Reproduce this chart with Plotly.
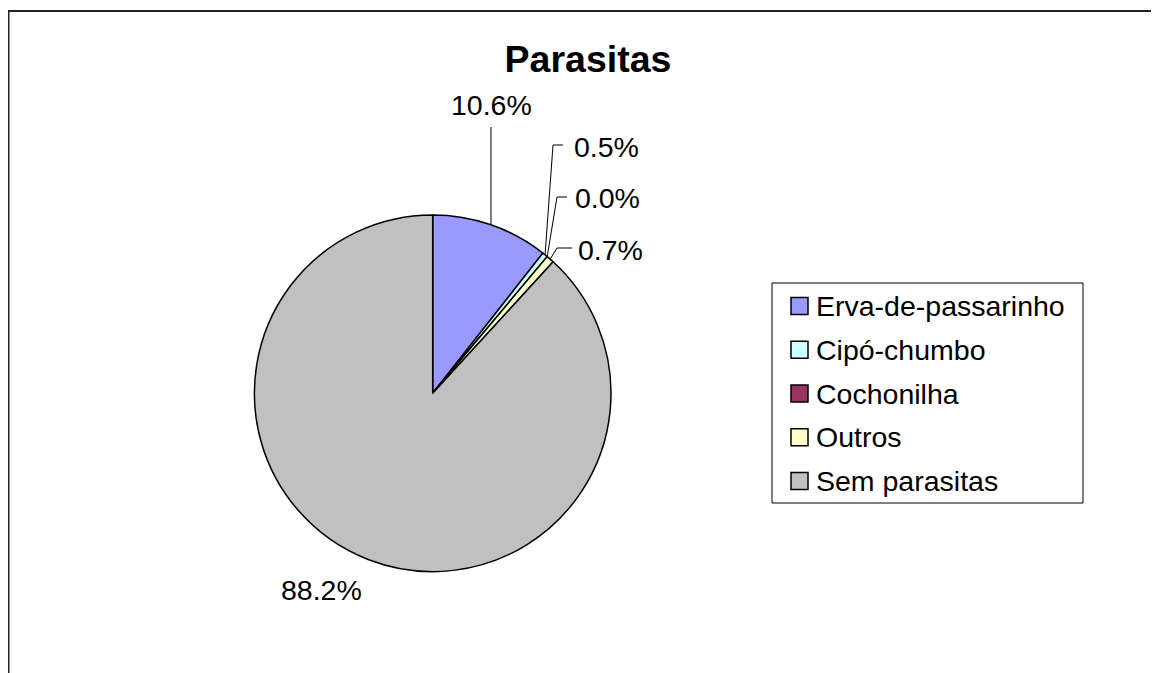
import math
import plotly.graph_objects as go

# data
labels = ["Erva-de-passarinho", "Cipó-chumbo", "Cochonilha", "Outros", "Sem parasitas"]
values = [10.6, 0.5, 0.0, 0.7, 88.2]
colors = ["#9999FF", "#CCFFFF", "#993366", "#FFFFCC", "#C0C0C0"]
title = "Parasitas"

OFF = 8  # page body margin, positions below are measured on the page
W, H = 1159 - OFF, 673 - OFF
CX, CY, R = 432.7, 393.3, 178.3
FONT = "Arial, Liberation Sans, sans-serif"


def p(x, y):
    # page pixel -> paper
    return (x - OFF) / W, 1 - (y - OFF) / H


d0 = p(CX - R, CY + R)
d1 = p(CX + R, CY - R)
fig = go.Figure(go.Pie(
    labels=labels, values=values, sort=False,
    direction="clockwise", rotation=0,
    marker=dict(colors=colors, line=dict(color="black", width=1.5)),
    textinfo="none", hoverinfo="label+percent", showlegend=False,
    domain=dict(x=[d0[0], d1[0]], y=[d0[1], d1[1]]),
))

# label placement (excel style, labels dragged by hand) and leader line bends
label_pos = [(491, 105, "center"), (572, 147, "left"), (573, 198, "left"),
             (576, 250, "left"), (321, 590, "center")]
leader_bends = [[("arc", 127)], [(553, 145), (563, 145)], [(557, 197), (567, 197)],
                [(557, 248), (572, 248)], None]

total = sum(values)
shapes = []
annotations = []
cum = 0.0
for i, v in enumerate(values):
    mid = (cum + v / 2) / total * 2 * math.pi
    cum += v
    ax = CX + R * math.sin(mid)
    ay = CY - R * math.cos(mid)
    lx, ly, anc = label_pos[i]
    annotations.append(dict(
        text=f"{v / total * 100:.1f}%", x=p(lx, ly)[0], y=p(lx, ly)[1],
        xref="paper", yref="paper", xanchor=anc, yanchor="middle",
        showarrow=False, font=dict(family=FONT, size=28.5, color="black")))
    if leader_bends[i]:
        pts = [(ax, ay)] + [(ax if bx == "arc" else bx, by) for bx, by in leader_bends[i]]
        path = "M " + " L ".join(f"{p(x, y)[0]},{p(x, y)[1]}" for x, y in pts)
        shapes.append(dict(type="path", path=path, xref="paper", yref="paper",
                           line=dict(color="black", width=1)))

# legend drawn by hand
x0, y0, x1, y1 = 772, 283, 1083, 503
shapes.append(dict(type="rect", xref="paper", yref="paper",
                   x0=p(x0, 0)[0], x1=p(x1, 0)[0], y0=p(0, y0)[1], y1=p(0, y1)[1],
                   line=dict(color="black", width=1), fillcolor="white"))
for i, (lab, col) in enumerate(zip(labels, colors)):
    yc = 306 + i * 43.75
    shapes.append(dict(type="rect", xref="paper", yref="paper",
                       x0=p(791, 0)[0], x1=p(808, 0)[0],
                       y0=p(0, yc - 8.5)[1], y1=p(0, yc + 8.5)[1],
                       line=dict(color="black", width=1.5), fillcolor=col))
    annotations.append(dict(
        text=lab, x=p(814, 0)[0], y=p(0, yc)[1], xref="paper", yref="paper",
        xanchor="left", yanchor="middle", showarrow=False,
        font=dict(family=FONT, size=28.5, color="black")))

# outer frame: only top and left edges fall inside the picture
frame = dict(color="#222222", width=2)
shapes.append(dict(type="line", xref="paper", yref="paper",
                   x0=p(7.5, 0)[0], x1=1.5, y0=p(0, 11)[1], y1=p(0, 11)[1], line=frame))
shapes.append(dict(type="line", xref="paper", yref="paper",
                   x0=p(8.5, 0)[0], x1=p(8.5, 0)[0], y0=p(0, 10)[1], y1=-0.5, line=frame))

fig.update_layout(
    width=W, height=H, margin=dict(l=0, r=0, t=0, b=0),
    paper_bgcolor="white", plot_bgcolor="white",
    title=dict(text=f"<b>{title}</b>", x=p(588, 0)[0], y=p(0, 59)[1],
               xanchor="center", yanchor="middle",
               font=dict(family=FONT, size=37.5, color="black")),
    shapes=shapes, annotations=annotations,
)

fig.write_html("out.html")
